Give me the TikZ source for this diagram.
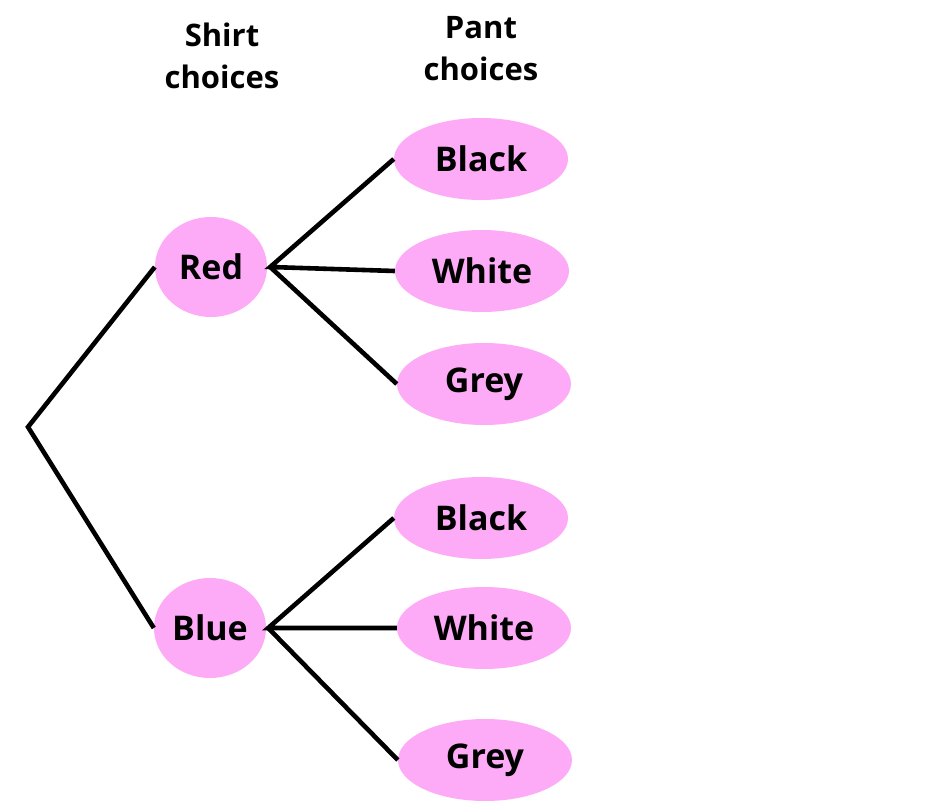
\documentclass[tikz,border=0pt]{standalone}
\usepackage{fontspec}
\setmainfont{Open Sans}
\usetikzlibrary{shapes.geometric}
\definecolor{pinkfill}{HTML}{FDABF7}
\begin{document}
\begin{tikzpicture}[x=1pt,y=-1pt,
  shirt/.style={ellipse,fill=pinkfill,minimum width=112pt,minimum height=100pt,inner sep=0pt,font=\fontsize{34}{40}\selectfont\bfseries},
  pant/.style={ellipse,fill=pinkfill,minimum width=174pt,minimum height=82pt,inner sep=0pt,font=\fontsize{34}{40}\selectfont\bfseries},
  header/.style={align=center,font=\fontsize{31}{42}\selectfont\bfseries},
  branch/.style={line width=4.6pt}]
\useasboundingbox (0,0) rectangle (934,810);
\node[header] (h1) at (222,56) {Shirt\\choices};
\node[header] (h2) at (481,49) {Pant\\choices};
\coordinate (root) at (28,427);
\node[shirt] (red) at (211,267) {Red};
\node[shirt] (blue) at (210,628) {Blue};
\node[pant] (b1) at (481,159) {Black};
\node[pant] (w1) at (482,271) {White};
\node[pant] (g1) at (484,384) {Grey};
\node[pant] (b2) at (481,518) {Black};
\node[pant] (w2) at (484,628) {White};
\node[pant] (g2) at (485,760) {Grey};
\draw[branch] (red.west) -- (root) -- (blue.west);
\draw[branch] (b1.west) -- ([xshift=3pt]red.east) -- (w1.west);
\draw[branch] ([xshift=3pt]red.east) -- (g1.west);
\draw[branch] (b2.west) -- ([xshift=2pt]blue.east) -- (w2.west);
\draw[branch] ([xshift=2pt]blue.east) -- (g2.west);
\end{tikzpicture}
\end{document}
